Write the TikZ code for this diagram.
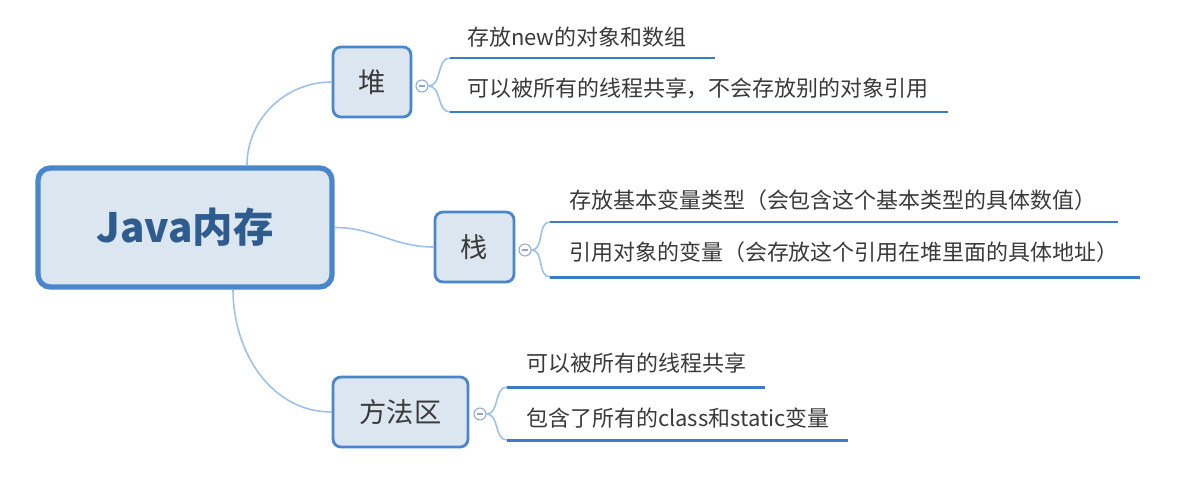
\documentclass[tikz,border=0pt]{standalone}
\usepackage{fontspec}
\setmainfont{Noto Sans CJK SC}
\usetikzlibrary{positioning}
\definecolor{boxblue}{HTML}{4A86CC}
\definecolor{boxfill}{HTML}{DCE6F1}
\definecolor{roottext}{HTML}{2F5C8F}
\definecolor{linkblue}{HTML}{9DC1E8}
\definecolor{lineblue}{HTML}{3B7BC9}
\definecolor{textgray}{HTML}{3A3A3A}
\definecolor{knobgray}{HTML}{8FA9C8}

\begin{document}
\begin{tikzpicture}[x=0.02cm, y=-0.02cm,
  root/.style={draw=boxblue, fill=boxfill, rounded corners=7pt, line width=3pt,
    minimum width=5.88cm, minimum height=2.38cm, text=roottext,
    font=\fontsize{23}{27}\selectfont\bfseries},
  topic/.style={draw=boxblue, fill=boxfill, rounded corners=4.5pt, line width=1.6pt,
    minimum height=1.4cm, text=textgray, font=\fontsize{15.5}{18}\selectfont},
  knob/.style={circle, draw=knobgray, fill=white, line width=0.6pt, minimum size=0.24cm, inner sep=0pt,
    path picture={\draw[knobgray, line width=0.6pt] ([xshift=-0.06cm]path picture bounding box.center)
      -- ([xshift=0.06cm]path picture bounding box.center);}},
  leaf/.style={anchor=west, inner sep=0pt, text=textgray, font=\fontsize{12.5}{15}\selectfont},
  link/.style={draw=linkblue, line width=0.9pt},
  uline/.style={draw=lineblue, line width=1.7pt}]
\useasboundingbox (0,0) rectangle (1182,477);

% main topics
\node[root] (root) at (185,227.5) {Java内存};
\node[topic, minimum width=1.56cm] (heap) at (372,82) {堆};
\node[topic, minimum width=1.58cm] (stack) at (474.5,247) {栈};
\node[topic, minimum width=2.7cm] (method) at (400.5,412) {方法区};

\draw[link] ([xshift=1.24cm]root.north) to[out=90, in=180] (heap.west);
\draw[link] (root.east) to[out=0, in=180] (stack.west);
\draw[link] ([xshift=0.96cm]root.south) to[out=-90, in=180] (method.west);

% collapse knobs
\node[knob] (hk) at (422,86) {};
\node[knob] (sk) at (525,250) {};
\node[knob] (mk) at (480,414) {};

% heap
\node[leaf] (h1) at (467,37) {存放new的对象和数组};
\node[leaf] (h2) at (467,88) {可以被所有的线程共享，不会存放别的对象引用};
\coordinate (h1a) at (450,58);  \coordinate (h1b) at (715,58);
\coordinate (h2a) at (450,112); \coordinate (h2b) at (948,112);

% stack
\node[leaf] (s1) at (569,200) {存放基本变量类型（会包含这个基本类型的具体数值）};
\node[leaf] (s2) at (569,252) {引用对象的变量（会存放这个引用在堆里面的具体地址）};
\coordinate (s1a) at (550,222); \coordinate (s1b) at (1118,222);
\coordinate (s2a) at (550,277); \coordinate (s2b) at (1140,277);

% method area
\node[leaf] (m1) at (526,363) {可以被所有的线程共享};
\node[leaf] (m2) at (526,418) {包含了所有的class和static变量};
\coordinate (m1a) at (507,387); \coordinate (m1b) at (765,387);
\coordinate (m2a) at (507,440); \coordinate (m2b) at (848,440);

\foreach \k/\i in {hk/h1, hk/h2, sk/s1, sk/s2, mk/m1, mk/m2} {
  \draw[link] (\k.east) to[out=0, in=180] (\i a);
  \draw[uline] (\i a) -- (\i b);
}
\end{tikzpicture}
\end{document}
